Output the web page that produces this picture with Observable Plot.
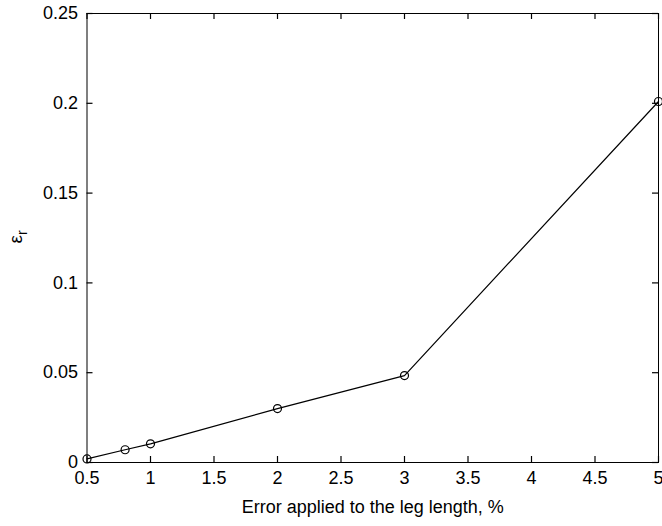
<!DOCTYPE html>
<html>
<head>
<meta charset="utf-8">
<script src="https://cdn.jsdelivr.net/npm/d3@7"></script>
<script src="https://cdn.jsdelivr.net/npm/@observablehq/plot@0.6"></script>
<style>
  html, body { margin: 0; padding: 0; background: #fff; }
  svg { font-family: "Liberation Sans", Arial, Helvetica, sans-serif; }
</style>
</head>
<body>
<div id="chart"></div>
<script>
const errorPct = [0.5, 0.8, 1, 2, 3, 5];
const epsR = [0.002, 0.0071, 0.0104, 0.030, 0.0484, 0.201];
const xTicks = [0.5, 1, 1.5, 2, 2.5, 3, 3.5, 4, 4.5, 5];
const yTicks = [0, 0.05, 0.1, 0.15, 0.2, 0.25];
const xLabel = "Error applied to the leg length, %";

const data = errorPct.map((x, i) => ({x, y: epsR[i]}));

const W = 662, H = 526, mL = 86.5, mR = 4, mT = 13, mB = 64;
const fw = W - mL - mR, fh = H - mT - mB, tk = 6;

const chart = Plot.plot({
  width: W,
  height: H,
  marginLeft: mL,
  marginRight: mR,
  marginTop: mT,
  marginBottom: mB,
  style: {fontSize: "18px", fontFamily: '"Liberation Sans", Arial, sans-serif', background: "#fff", color: "#000", overflow: "visible"},
  x: {domain: [0.5, 5]},
  y: {domain: [0, 0.25]},
  marks: [
    Plot.frame({stroke: "#000"}),
    Plot.axisX(xTicks, {anchor: "bottom", tickSize: 0, tickPadding: 9, label: null, tickFormat: d => String(d), fontSize: 18}),
    Plot.axisY(yTicks, {anchor: "left", tickSize: 0, tickPadding: 9, label: null, tickFormat: d => String(d), fontSize: 18}),
    Plot.tickX(xTicks, {x: d => d, insetTop: fh - tk, stroke: "#000", strokeWidth: 1.2}),
    Plot.tickX(xTicks, {x: d => d, insetBottom: fh - tk, stroke: "#000", strokeWidth: 1.2}),
    Plot.tickY(yTicks, {y: d => d, insetRight: fw - tk, stroke: "#000", strokeWidth: 1.2}),
    Plot.tickY(yTicks, {y: d => d, insetLeft: fw - tk, stroke: "#000", strokeWidth: 1.2}),
    Plot.line(data, {x: "x", y: "y", stroke: "#000", strokeWidth: 1.2}),
    Plot.dot(data, {x: "x", y: "y", r: 4, stroke: "#000", fill: "none", strokeWidth: 1.2}),
    Plot.text([xLabel], {frameAnchor: "bottom", dy: 50, text: d => d, fontSize: 18, fill: "#000"})
  ]
});

const svg = d3.select(chart);
const yl = svg.append("text")
  .attr("transform", "translate(22,237) rotate(-90)")
  .attr("text-anchor", "middle")
  .attr("font-size", 19)
  .attr("fill", "#000");
yl.append("tspan").text("ε");
yl.append("tspan").attr("font-size", 14).attr("dy", 5).text("r");

document.getElementById("chart").appendChild(chart);
</script>
</body>
</html>
